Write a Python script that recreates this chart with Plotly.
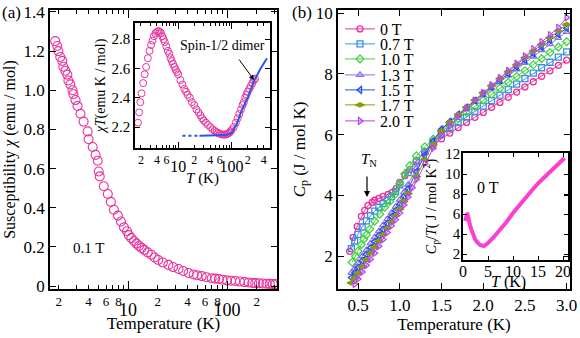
import plotly.graph_objects as go

# ---------------------------------------------------------------------------
# (a) susceptibility, 0.1 T
# ---------------------------------------------------------------------------
chi_T = [1.84, 1.93, 1.98, 2.07, 2.17, 2.22, 2.33, 2.44, 2.50, 2.62, 2.75, 2.81,
         2.95, 3.09, 3.31, 3.56, 3.91, 4.0, 4.40, 4.71, 4.94, 5.06, 5.18, 5.69,
         6.25, 6.71, 7.19, 7.91, 8.49, 9.1, 9.77, 10.2, 10.8, 11.5, 12.2, 12.9,
         13.7, 14.6, 15.8, 17.2, 18.6, 20.2, 22.5, 25.6, 28.5, 32.4, 36, 40.9, 46,
         50, 55.6, 62, 70, 76, 82.8, 90, 100, 110, 121, 135, 150, 165, 180, 193,
         210, 230, 250, 270, 290, 309]
chi_val = [1.251, 1.226, 1.20, 1.17, 1.15, 1.12, 1.10, 1.08, 1.05, 1.03, 1.0, 0.98,
           0.95, 0.92, 0.88, 0.84, 0.79, 0.75, 0.71, 0.67, 0.64, 0.585, 0.56, 0.51,
           0.47, 0.43, 0.39, 0.36, 0.33, 0.30, 0.28, 0.26, 0.245, 0.23, 0.217, 0.205,
           0.195, 0.185, 0.172, 0.16, 0.146, 0.133, 0.12, 0.108, 0.097, 0.087, 0.077,
           0.067, 0.059, 0.055, 0.051, 0.045, 0.04, 0.038, 0.036, 0.032, 0.029, 0.027,
           0.026, 0.023, 0.02, 0.018, 0.016, 0.015, 0.014, 0.013, 0.012, 0.011,
           0.0105, 0.01]

# inset: chi*T
chiT_T = [1.76, 1.85, 1.95, 2.05, 2.2, 2.35, 2.5, 2.7, 2.9, 3.1, 3.3, 3.5, 3.75, 4.0,
          4.25, 4.5, 4.75, 5.0, 5.3, 5.6, 6.0, 6.4, 6.8, 7.2, 7.6, 8.0, 8.5, 9.0, 9.5,
          10, 11, 12, 13, 14, 15, 16.5, 18, 20, 22, 24, 26, 28, 30, 33, 36, 40, 44,
          48, 52, 56, 60, 65, 70, 75, 80, 85, 90, 95, 100, 110, 120, 130, 140, 150,
          160, 170, 180, 190, 200, 215, 230, 245, 260, 275]
chiT_val = [2.23, 2.30, 2.37, 2.43, 2.50, 2.56, 2.61, 2.67, 2.72, 2.76, 2.79, 2.82,
            2.84, 2.85, 2.855, 2.85, 2.84, 2.82, 2.80, 2.78, 2.75, 2.72, 2.70, 2.67,
            2.65, 2.63, 2.61, 2.59, 2.575, 2.56, 2.52, 2.49, 2.46, 2.44, 2.42, 2.40,
            2.37, 2.35, 2.32, 2.30, 2.28, 2.26, 2.245, 2.23, 2.215, 2.20, 2.185,
            2.175, 2.165, 2.16, 2.155, 2.15, 2.148, 2.148, 2.15, 2.155, 2.16, 2.17,
            2.18, 2.20, 2.23, 2.26, 2.29, 2.32, 2.35, 2.37, 2.40, 2.42, 2.44, 2.46,
            2.48, 2.50, 2.52, 2.53]

dimer_dash_T = [12, 25]
dimer_dash_val = [2.14, 2.14]
dimer_T = [25, 40, 60, 80, 100, 125, 150, 200, 260, 350, 460]
dimer_val = [2.14, 2.14, 2.14, 2.145, 2.16, 2.22, 2.30, 2.40, 2.51, 2.60, 2.67]

# ---------------------------------------------------------------------------
# (b) specific heat
# ---------------------------------------------------------------------------
T_hi = [1.6, 1.7, 1.8, 1.9, 2.0, 2.1, 2.2, 2.3, 2.4, 2.5, 2.6, 2.7, 2.8, 2.9, 3.0]

cp_T = {
    "0 T": [0.40, 0.44, 0.49, 0.54, 0.58, 0.62, 0.67, 0.70, 0.75, 0.80, 0.86, 0.91,
            0.96, 1.00, 1.06, 1.12, 1.2, 1.3, 1.4, 1.5] + T_hi,
    "0.7 T": [0.42, 0.46, 0.50, 0.55, 0.60, 0.65, 0.70, 0.75, 0.80, 0.85, 0.90, 0.95,
              1.0, 1.1, 1.2, 1.3, 1.4, 1.5] + T_hi,
    "1.0 T": [0.43, 0.47, 0.50, 0.54, 0.57, 0.60, 0.64, 0.70, 0.76, 0.82, 0.88, 0.94,
              1.0, 1.06, 1.12, 1.2, 1.3, 1.4, 1.5] + T_hi,
    "1.3 T": [0.42, 0.46, 0.50, 0.55, 0.60, 0.65, 0.70, 0.75, 0.80, 0.85, 0.90, 0.95,
              1.0, 1.05, 1.1, 1.2, 1.3, 1.4, 1.5] + T_hi,
    "1.5 T": [0.42, 0.46, 0.50, 0.55, 0.60, 0.65, 0.70, 0.75, 0.80, 0.85, 0.90, 0.95,
              1.0, 1.05, 1.1, 1.2, 1.3, 1.4, 1.5] + T_hi,
    "1.7 T": [0.42, 0.46, 0.50, 0.55, 0.60, 0.65, 0.70, 0.75, 0.80, 0.85, 0.90, 0.95,
              1.0, 1.05, 1.1, 1.2, 1.3, 1.4, 1.5] + T_hi,
    "2.0 T": [0.46, 0.50, 0.55, 0.60, 0.65, 0.70, 0.75, 0.80, 0.85, 0.90, 0.95, 1.0,
              1.05, 1.1, 1.15, 1.2, 1.3, 1.4, 1.5] + T_hi,
}
cp_val = {
    "0 T": [2.16, 2.62, 2.98, 3.31, 3.51, 3.67, 3.77, 3.84, 3.90, 3.97, 4.03, 4.10,
            4.23, 4.43, 4.65, 4.85, 5.15, 5.42, 5.65, 5.86,
            6.05, 6.23, 6.40, 6.57, 6.73, 6.90, 7.06, 7.23, 7.40, 7.57, 7.74, 7.92,
            8.10, 8.28, 8.45],
    "0.7 T": [2.25, 2.5, 2.72, 2.96, 3.16, 3.33, 3.48, 3.61, 3.73, 3.84, 3.96, 4.13,
              4.35, 4.75, 5.1, 5.45, 5.75, 6.0,
              6.2, 6.4, 6.58, 6.76, 6.94, 7.12, 7.3, 7.48, 7.66, 7.84, 8.02, 8.2,
              8.38, 8.55, 8.72],
    "1.0 T": [1.8, 2.0, 2.16, 2.38, 2.56, 2.7, 2.89, 3.15, 3.38, 3.61, 3.8, 4.03,
              4.38, 4.7, 4.98, 5.3, 5.6, 5.85, 6.1,
              6.32, 6.53, 6.73, 6.93, 7.13, 7.33, 7.53, 7.72, 7.91, 8.1, 8.3, 8.5,
              8.7, 8.88, 9.06],
    "1.3 T": [1.45, 1.6, 1.78, 2.0, 2.2, 2.42, 2.62, 2.82, 3.02, 3.22, 3.42, 3.62,
              3.85, 4.1, 4.35, 4.9, 5.4, 5.8, 6.18,
              6.42, 6.65, 6.87, 7.08, 7.3, 7.52, 7.73, 7.94, 8.15, 8.36, 8.57, 8.78,
              8.98, 9.18, 9.38],
    "1.5 T": [1.3, 1.45, 1.62, 1.85, 2.06, 2.28, 2.48, 2.68, 2.88, 3.08, 3.3, 3.5,
              3.72, 3.97, 4.22, 4.78, 5.32, 5.78, 6.18,
              6.43, 6.67, 6.9, 7.12, 7.35, 7.57, 7.79, 8.01, 8.23, 8.45, 8.67, 8.88,
              9.1, 9.3, 9.5],
    "1.7 T": [1.12, 1.27, 1.44, 1.66, 1.88, 2.1, 2.3, 2.5, 2.7, 2.92, 3.12, 3.33,
              3.55, 3.8, 4.06, 4.62, 5.18, 5.68, 6.12,
              6.4, 6.66, 6.9, 7.14, 7.38, 7.61, 7.84, 8.07, 8.3, 8.53, 8.75, 8.97,
              9.19, 9.41, 9.62],
    "2.0 T": [1.08, 1.25, 1.48, 1.7, 1.9, 2.1, 2.33, 2.55, 2.78, 3.0, 3.2, 3.42,
              3.68, 3.95, 4.25, 4.52, 5.05, 5.55, 5.98,
              6.3, 6.6, 6.87, 7.12, 7.38, 7.63, 7.87, 8.1, 8.34, 8.58, 8.82, 9.05,
              9.28, 9.52, 9.85],
}
cp_color = {"0 T": "#ec2f9b", "0.7 T": "#3a8ee6", "1.0 T": "#3fd63f",
            "1.3 T": "#8d6cf2", "1.5 T": "#2050e8", "1.7 T": "#8a9a0c",
            "2.0 T": "#b347f0"}
cp_symbol = {"0 T": "circle-open", "0.7 T": "square-open", "1.0 T": "diamond-open",
             "1.3 T": "triangle-up-open", "1.5 T": "triangle-left-open",
             "1.7 T": "diamond-wide", "2.0 T": "triangle-right-open"}

# inset: Cp/T at 0 T
cpT_T = [0.45, 0.5, 0.6, 0.7, 0.8, 0.9, 1.0, 1.2, 1.4, 1.7, 2.0, 2.4, 2.8, 3.4, 4.2,
         5.0, 6.0, 7.4, 8.7, 10.0, 11.3, 12.7, 14.0, 15.3, 16.7, 18.0, 19.3, 20.3]
cpT_val = [5.3, 5.5, 5.8, 6.0, 6.05, 6.0, 5.7, 5.2, 4.9, 4.4, 3.9, 3.5, 3.2, 2.9, 2.8,
           3.1, 3.6, 4.4, 5.2, 6.1, 6.9, 7.7, 8.5, 9.2, 9.9, 10.5, 11.1, 11.6]

# tick labels
chi_yticks = [0, 0.2, 0.4, 0.6, 0.8, 1.0, 1.2, 1.4]
chi_ytext = ["0", "0.2", "0.4", "0.6", "0.8", "1.0", "1.2", "1.4"]
log_minor_lab = [2, 4, 6, 8, 20, 40, 60, 80, 200]
log_minor_lab_text = ["2", "4", "6", "8", "2", "4", "6", "8", "2"]
log_minor = [3, 5, 7, 9, 30, 50, 70, 90, 300]
log_major = [10, 100]
log_major_text = ["10", "100"]
ins_minor_lab = [2, 4, 6, 20, 40, 60, 200, 400]
ins_minor_lab_text = ["2", "4", "6", "2", "4", "6", "2", "4"]
ins_minor = [3, 5, 7, 8, 9, 30, 50, 70, 80, 90, 300]
ins_yticks = [2.2, 2.4, 2.6, 2.8]


W, H = 580, 338
FONT = "Liberation Serif"


def px(x):
    return x / W


def py(y):
    return 1 - y / H


fig = go.Figure()

fig.add_trace(go.Scatter(
    x=chi_T, y=chi_val, mode="markers", xaxis="x", yaxis="y", showlegend=False,
    marker=dict(symbol="circle-open", size=9, color="#e8339c", line=dict(width=1.1)),
))
fig.add_trace(go.Scatter(
    x=log_major, y=[None, None], mode="markers", xaxis="x5", yaxis="y",
    showlegend=False, hoverinfo="skip",
))
fig.add_trace(go.Scatter(
    x=chiT_T, y=chiT_val, mode="markers", xaxis="x2", yaxis="y2", showlegend=False,
    marker=dict(symbol="circle-open", size=7, color="#e8339c", line=dict(width=1)),
))
fig.add_trace(go.Scatter(
    x=dimer_dash_T, y=dimer_dash_val, mode="lines", xaxis="x2", yaxis="y2",
    showlegend=False, line=dict(color="#2a55e8", width=2, dash="3px,3px"),
))
fig.add_trace(go.Scatter(
    x=dimer_T, y=dimer_val, mode="lines", xaxis="x2", yaxis="y2",
    showlegend=False, line=dict(color="#2a55e8", width=2),
))
fig.add_trace(go.Scatter(
    x=log_major, y=[None, None], mode="markers", xaxis="x6", yaxis="y2",
    showlegend=False, hoverinfo="skip",
))

legend_y = [29, 44, 59, 75, 90, 105, 121]
for i, key in enumerate(cp_T):
    lg = "legend" if i == 0 else f"legend{i + 1}"
    fig.add_trace(go.Scatter(
        x=cp_T[key], y=cp_val[key], mode="lines+markers", name=key,
        xaxis="x3", yaxis="y3", legend=lg,
        line=dict(color=cp_color[key], width=1),
        marker=dict(symbol=cp_symbol[key], size=6, color=cp_color[key],
                    line=dict(width=1.3, color=cp_color[key])),
    ))

fig.add_trace(go.Scatter(
    x=cpT_T, y=cpT_val, mode="lines", xaxis="x4", yaxis="y4", showlegend=False,
    line=dict(color="#fb3fd2", width=4),
))

axis_common = dict(showline=True, linecolor="black", linewidth=1.5, mirror="ticks",
                   ticks="inside", tickcolor="black", tickwidth=1.2, showgrid=False,
                   zeroline=False, automargin=False,
                   tickfont=dict(family=FONT, size=17, color="black"))

layout = dict(
    width=W, height=H, margin=dict(l=0, r=0, t=0, b=0),
    paper_bgcolor="white", plot_bgcolor="rgba(0,0,0,0)",
    font=dict(family=FONT, color="black"),
    xaxis=dict(axis_common, domain=[px(50), px(277)], anchor="y", type="log",
               range=[0.212, 2.505], tickmode="array", tickvals=log_minor_lab,
               ticktext=log_minor_lab_text, ticklen=4, tickfont=dict(family=FONT, size=13),
               minor=dict(tickvals=log_minor, ticks="inside", ticklen=4, tickcolor="black"),
               title=dict(text="Temperature (K)", font=dict(size=17), standoff=9)),
    xaxis5=dict(axis_common, overlaying="x", anchor="y", type="log", range=[0.212, 2.505],
                tickmode="array", tickvals=log_major, ticktext=log_major_text, ticklen=8,
                tickfont=dict(family=FONT, size=18), ticklabelstandoff=4),
    yaxis=dict(axis_common, domain=[py(289), py(10)], anchor="x", range=[-0.015, 1.41],
               tickmode="array", tickvals=chi_yticks, ticktext=chi_ytext, ticklen=6,
               title=dict(text="Susceptibility <i>χ</i> (emu / mol)", font=dict(size=16),
                          standoff=4)),
    xaxis2=dict(axis_common, domain=[px(135), px(270)], anchor="y2", type="log",
                range=[0.19, 2.72], tickmode="array", tickvals=ins_minor_lab,
                ticktext=ins_minor_lab_text, ticklen=3, tickfont=dict(family=FONT, size=12),
                minor=dict(tickvals=ins_minor, ticks="inside", ticklen=3, tickcolor="black"),
                title=dict(text="<i>T</i> (K)", font=dict(size=15), standoff=6)),
    xaxis6=dict(axis_common, overlaying="x2", anchor="y2", type="log", range=[0.19, 2.72],
                tickmode="array", tickvals=log_major, ticktext=log_major_text, ticklen=6,
                tickfont=dict(family=FONT, size=16), ticklabelstandoff=3),
    yaxis2=dict(axis_common, domain=[py(148), py(23)], anchor="x2", range=[2.057, 2.91],
                tickmode="array", tickvals=ins_yticks, ticklen=5,
                tickfont=dict(family=FONT, size=15),
                title=dict(text="<i>χT</i>(emu K / mol)", font=dict(size=14), standoff=3)),
    xaxis3=dict(axis_common, domain=[px(338), px(570)], anchor="y3", range=[0.26, 3.04],
                tickmode="array", tickvals=[0.5, 1.0, 1.5, 2.0, 2.5, 3.0],
                ticktext=["0.5", "1.0", "1.5", "2.0", "2.5", "3.0"], ticklen=6,
                title=dict(text="Temperature (K)", font=dict(size=17), standoff=3)),
    yaxis3=dict(axis_common, domain=[py(289), py(10)], anchor="x3", range=[0.92, 10.1],
                tickmode="array", tickvals=[2, 4, 6, 8, 10], ticklen=6,
                title=dict(text="<i>C</i><sub>p</sub> (J / mol K)", font=dict(size=17),
                           standoff=6)),
    xaxis4=dict(axis_common, domain=[px(463), px(568)], anchor="y4", range=[0, 21],
                tickmode="array", tickvals=[0, 5, 10, 15, 20], ticklen=4,
                tickfont=dict(family=FONT, size=16), ticklabelstandoff=-4),
    yaxis4=dict(axis_common, domain=[py(260), py(153)], anchor="x4", range=[1.4, 12.1],
                tickmode="array", tickvals=[2, 4, 6, 8, 10, 12], ticklen=4,
                tickfont=dict(family=FONT, size=15), ticklabelstandoff=-2,
                title=dict(text="<i>C</i><sub>p</sub>/<i>T</i>( J / mol K<sup>2</sup>)",
                           font=dict(size=14), standoff=5)),
    showlegend=True,
)
for i, yy in enumerate(legend_y):
    lg = "legend" if i == 0 else f"legend{i + 1}"
    layout[lg] = dict(x=px(340), y=py(yy), xanchor="left", yanchor="middle",
                      bgcolor="rgba(0,0,0,0)", borderwidth=0,
                      font=dict(family=FONT, size=16, color="black"),
                      itemwidth=30, tracegroupgap=0)
fig.update_layout(**layout)

annots = [
    dict(text="(a)", x=px(0), y=py(13), xanchor="left"),
    dict(text="(b)", x=px(290), y=py(13), xanchor="left"),
    dict(text="0.1 T", x=px(88), y=py(248), font=dict(size=15)),
    dict(text="Spin-1/2 dimer", x=px(222), y=py(45), font=dict(size=14)),
    dict(text="<i>T</i><sub>N</sub>", x=px(369), y=py(160), font=dict(size=15)),
    dict(text="0 T", x=px(488), y=py(188), font=dict(size=16)),
    dict(text="<i>T</i> (K)", x=px(508), y=py(282), font=dict(size=16)),
]
for a in annots:
    a.update(xref="paper", yref="paper", showarrow=False, yanchor="middle")
    a.setdefault("xanchor", "center")
    a.setdefault("font", dict(size=17))
    a["font"] = dict(family=FONT, color="black", **a["font"])
    fig.add_annotation(**a)

fig.add_annotation(xref="paper", yref="paper", x=px(254), y=py(80), ax=-16, ay=-22,
                   text="", showarrow=True, arrowhead=2, arrowsize=1, arrowwidth=1,
                   arrowcolor="black")
fig.add_annotation(xref="paper", yref="paper", x=px(367), y=py(197), ax=0, ay=-22,
                   text="", showarrow=True, arrowhead=2, arrowsize=1, arrowwidth=1.2,
                   arrowcolor="black")

# the page's default body margin would shift the figure by 8 px
fig.write_html("out.html", config={"displayModeBar": False},
               post_script="document.body.style.margin = '0';")
